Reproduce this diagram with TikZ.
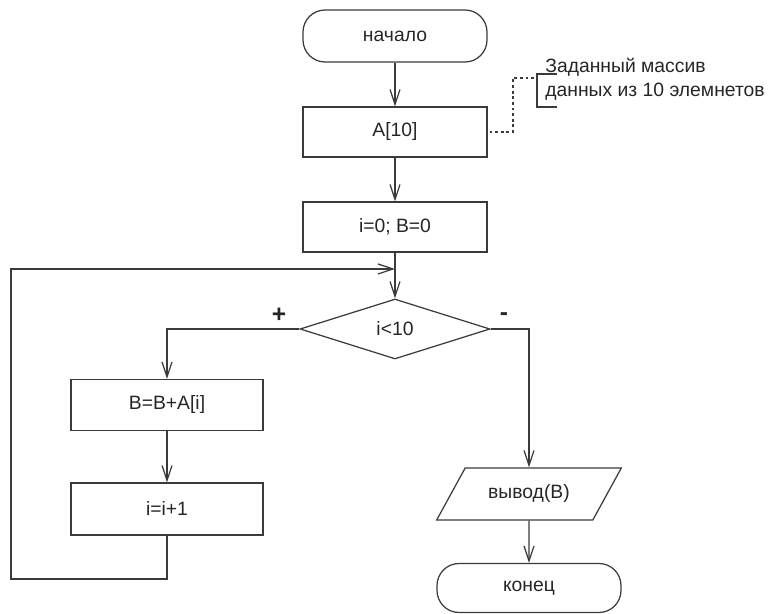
\documentclass[tikz,border=0pt]{standalone}
\usepackage{fontspec}
\setmainfont{Liberation Sans}
\usetikzlibrary{arrows.meta,shapes.geometric}
\definecolor{ink}{HTML}{262626}
\definecolor{edge}{HTML}{3A3A3A}

\begin{document}
\begin{tikzpicture}[x=.02cm,y=-.02cm,text=ink,
 font=\fontsize{11}{13.5}\selectfont,
 term/.style={draw=edge,line width=.7pt,rounded corners=.44cm,minimum width=3.68cm,minimum height=1.04cm},
 proc/.style={draw=edge,line width=.7pt,minimum width=3.68cm,minimum height=1cm},
 decide/.style={draw=edge,line width=.7pt,diamond,inner sep=0pt,minimum width=3.8cm,minimum height=1.2cm},
 io/.style={draw=edge,line width=.7pt,trapezium,trapezium left angle=55,trapezium right angle=125,
  trapezium stretches=true,minimum width=3.7cm,minimum height=1.04cm},
 sign/.style={font=\bfseries\fontsize{14}{16}\selectfont},
 flow/.style={-{Straight Barb[length=3mm,width=2mm]},draw=edge,line width=.7pt}]
\useasboundingbox (0,0) rectangle (768,614);
% main column
\node[term] (start) at (395,36) {начало};
\node[proc] (arr) at (395,132) {A[10]};
\node[proc] (init) at (395,227) {i=0; B=0};
\node[decide] (test) at (395,329) {i<10};
% loop body
\node[proc,minimum width=3.84cm,minimum height=1.02cm] (sum) at (167,405) {B=B+A[i]};
\node[proc,minimum width=3.84cm,minimum height=1.04cm] (incr) at (167,509) {i=i+1};
% exit
\node[io] (out) at (529,494) {вывод(B)};
\node[term,minimum height=.98cm] (stop) at (529,588) {конец};
\node[sign] (yes) at (279,315) {+};
\node[sign] (no) at (504,317) {-};
\draw[flow] (start) -- (arr);
\draw[flow] (arr) -- (init);
\draw[flow] (init) -- (test);
\draw[flow] (test.west) -| (sum.north);
\draw[flow] (sum) -- (incr);
\draw[flow] (test.east) -| (out.north);
\draw[flow] (out) -- (stop);
\coordinate (corner) at (11,579);
\coordinate (join) at (395,269);
\draw[flow] (incr.south) |- (corner) |- (join);
% comment on the array
\node[anchor=west,align=left,inner sep=0pt] (note) at (545,79) {Заданный массив\\данных из 10 элемнетов};
\coordinate (bend) at (513,78);
\coordinate (brk) at (537,78);
\draw[edge,line width=.6pt,dash pattern=on 1.6pt off 1.6pt] ([xshift=.04cm]arr.east) -| (bend) -- (brk);
\draw[edge,line width=.7pt] (557,74) -- (537,74) -- (537,107) -- (557,107);
\end{tikzpicture}
\end{document}
